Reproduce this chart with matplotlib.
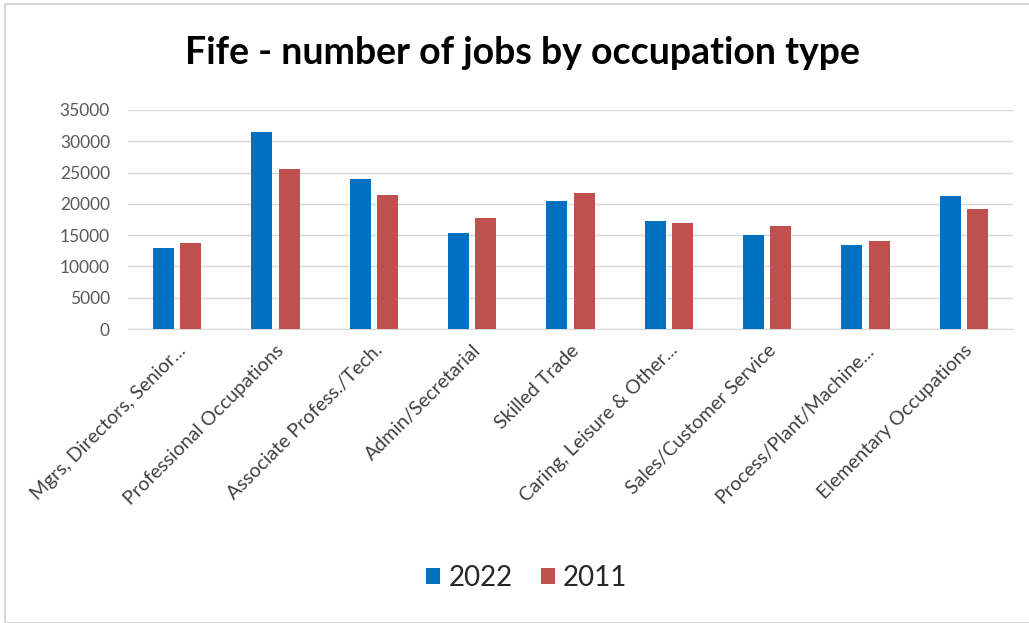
import numpy as np
import matplotlib.pyplot as plt
from matplotlib.patches import Rectangle

# Fife jobs by occupation, 2022 vs 2011
occupations = ['Mgrs, Directors, Senior...', 'Professional Occupations',
               'Associate Profess./Tech.', 'Admin/Secretarial', 'Skilled Trade',
               'Caring, Leisure & Other...', 'Sales/Customer Service',
               'Process/Plant/Machine...', 'Elementary Occupations']
jobs_2022 = [12900, 31500, 23900, 15400, 20400, 17300, 15100, 13400, 21200]
jobs_2011 = [13700, 25600, 21400, 17800, 21700, 17000, 16500, 14000, 19200]

plt.rcParams['font.family'] = ['Lato', 'DejaVu Sans']

fig = plt.figure(figsize=(10.29, 6.23), dpi=100)
ax = fig.add_axes([128/1029, 1-329/623, (1013-128)/1029, (329-110)/623])

x = np.arange(len(occupations))
w = 0.213
ax.bar(x - 0.139, jobs_2022, w, color='#0070C0', label='2022', zorder=3)
ax.bar(x + 0.139, jobs_2011, w, color='#C0504D', label='2011', zorder=3)

ax.set_xlim(-0.5, len(occupations) - 0.5)
ax.set_ylim(0, 35000)
ax.set_yticks(np.arange(0, 35001, 5000))
ax.yaxis.grid(True, color='#D9D9D9', linewidth=1)
ax.set_axisbelow(True)
for s in ['top', 'right', 'left']:
    ax.spines[s].set_visible(False)
ax.spines['bottom'].set_color('#D9D9D9')
ax.tick_params(axis='both', length=0)
ax.tick_params(axis='y', labelsize=12.5, labelcolor='#595959', pad=13)

ax.set_xticks(x)
ax.set_xticklabels(occupations, rotation=45, ha='right', rotation_mode='anchor',
                   fontsize=14, color='#404040')
ax.tick_params(axis='x', pad=9)

fig.text(0.508, 0.915, 'Fife - number of jobs by occupation type',
         ha='center', va='center', fontsize=27, fontweight='bold', color='black')

fig.legend(loc='center', bbox_to_anchor=(0.512, 0.072), ncol=2, frameon=False,
           fontsize=20, handlelength=0.5, handleheight=0.5, handletextpad=0.3,
           columnspacing=1.0, labelcolor='#262626')

# light frame around the chart
fig.patches.append(Rectangle((5/1029, 0), 1, 1-4/623, transform=fig.transFigure,
                             fill=False, edgecolor='#D0D0D0', linewidth=1.2))

fig.savefig('out.png', dpi=100)
